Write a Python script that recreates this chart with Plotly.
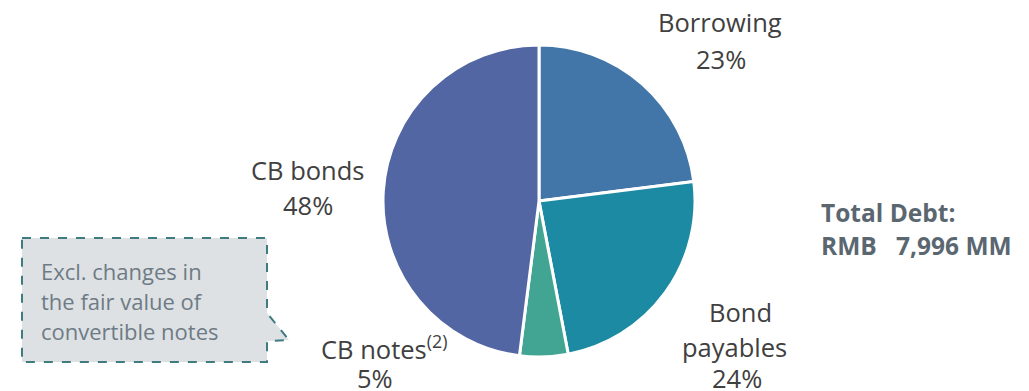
import plotly.graph_objects as go

W, H = 1029, 391

categories = ["Borrowing", "Bond payables", "CB notes", "CB bonds"]
shares = [23, 24, 5, 48]
colors = ["#4276A8", "#1B8AA2", "#42A593", "#5266A3"]

total_title = "Total Debt:"
total_value = "RMB"
total_amount = "7,996 MM"
callout_lines = ["Excl. changes in", "the fair value of", "convertible notes"]


def px(x):
    return x / W


def py(y):
    return 1 - y / H


cx, cy, r = 539, 201, 156

fig = go.Figure()
fig.add_trace(go.Pie(
    labels=categories,
    values=shares,
    sort=False,
    direction="clockwise",
    rotation=0,
    textinfo="none",
    hoverinfo="label+percent",
    marker=dict(colors=colors, line=dict(color="white", width=3)),
    domain=dict(x=[px(cx - r), px(cx + r)], y=[py(cy + r), py(cy - r)]),
    showlegend=False,
))

FONT = "Open Sans"
lab_color = "#404040"
lab_size = 25.5

labels = [
    ("Borrowing", 720, 22),
    (f"{shares[0]}%", 721, 59),
    ("CB bonds", 308, 170),
    (f"{shares[3]}%", 308, 205),
    ("CB notes<sup>(2)</sup>", 384, 347),
    (f"{shares[2]}%", 375, 378),
    ("Bond", 740, 312),
    ("payables", 734, 347),
    (f"{shares[1]}%", 737, 378),
]
for t, x, y in labels:
    fig.add_annotation(x=px(x), y=py(y), xref="paper", yref="paper", text=t,
                       showarrow=False, xanchor="center", yanchor="middle",
                       font=dict(family=FONT, size=lab_size, color=lab_color))

tot_color = "#5B6770"
tot_size = 24.5
fig.add_annotation(x=px(819), y=py(212), xref="paper", yref="paper", text=f"<b>{total_title}</b>",
                   showarrow=False, xanchor="left", yanchor="middle",
                   font=dict(family=FONT, size=tot_size, color=tot_color))
fig.add_annotation(x=px(819), y=py(245), xref="paper", yref="paper", text=f"<b>{total_value}</b>",
                   showarrow=False, xanchor="left", yanchor="middle",
                   font=dict(family=FONT, size=tot_size, color=tot_color))
fig.add_annotation(x=px(1014), y=py(245), xref="paper", yref="paper", text=f"<b>{total_amount}</b>",
                   showarrow=False, xanchor="right", yanchor="middle",
                   font=dict(family=FONT, size=tot_size, color=tot_color))

# callout box
pts = [(22, 238), (267, 238), (267, 313), (289, 340), (267, 341), (267, 362), (22, 362)]
path = "M " + " L ".join(f"{px(x)},{py(y)}" for x, y in pts) + " Z"
fig.add_shape(type="path", path=path, xref="paper", yref="paper",
              fillcolor="#DDE1E4", line=dict(color="#3E7C80", width=2, dash="dash"), layer="below")

for i, t in enumerate(callout_lines):
    fig.add_annotation(x=px(39), y=py(271 + 30 * i), xref="paper", yref="paper", text=t,
                       showarrow=False, xanchor="left", yanchor="middle",
                       font=dict(family=FONT, size=22, color="#6E7B85"))

fig.update_layout(
    width=W, height=H,
    margin=dict(l=0, r=0, t=0, b=0),
    paper_bgcolor="white", plot_bgcolor="white",
)

fig.write_html("out.html")
